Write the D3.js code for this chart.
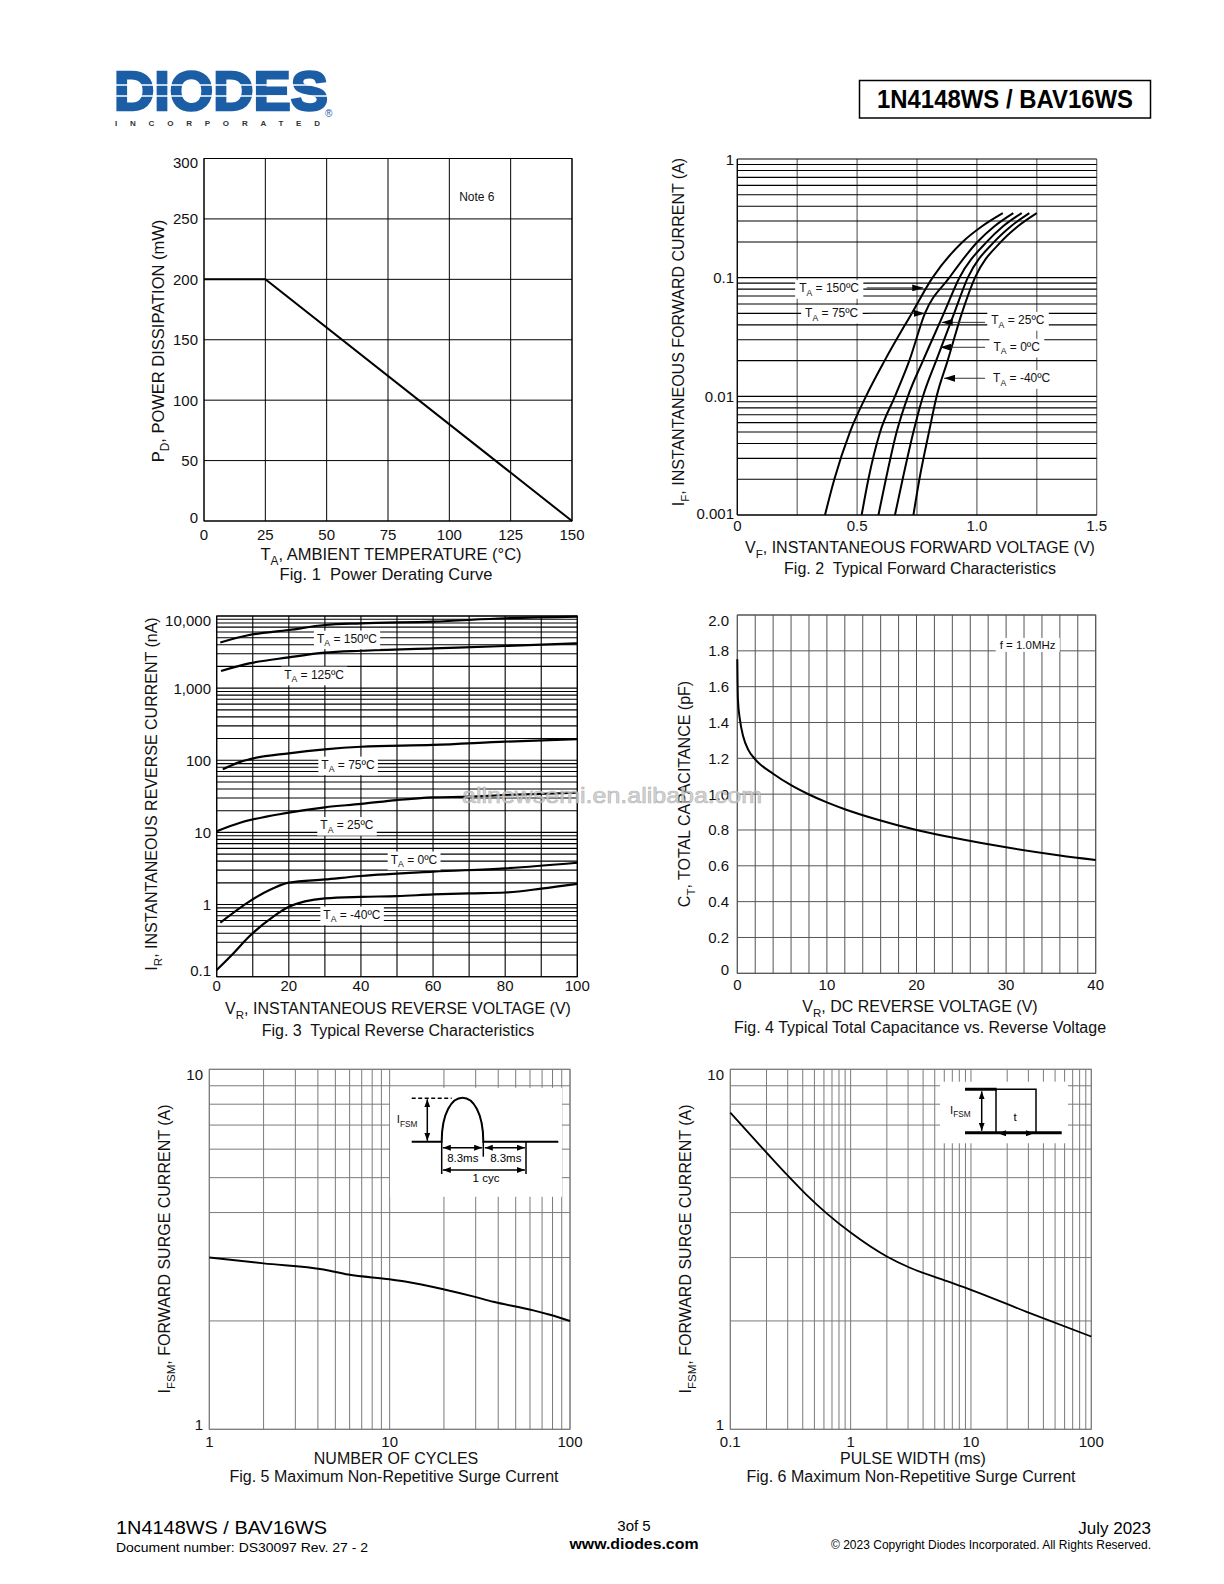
<!DOCTYPE html>
<html><head><meta charset="utf-8">
<script src="https://cdn.jsdelivr.net/npm/d3@7"></script>
<style>body{margin:0;background:#fff}svg{display:block}text{font-family:'Liberation Sans',Arial,sans-serif}</style>
</head><body>
<script>
// ---------------- DATA ----------------
const fig1Temperature = [0, 25, 150];
const fig1Power = [200, 200, 0];
const fig1XTicks = [0, 25, 50, 75, 100, 125, 150];
const fig1YTicks = [0, 50, 100, 150, 200, 250, 300];

const fig2Current = [0.001, 0.002, 0.005, 0.01, 0.02, 0.05, 0.1, 0.2, 0.27, 0.35];
const fig2V150 = [0.366, 0.405, 0.470, 0.537, 0.615, 0.728, 0.815, 0.940, 1.020, 1.108];
const fig2V75  = [0.519, 0.547, 0.596, 0.658, 0.718, 0.783, 0.885, 1.002, 1.072, 1.152];
const fig2V25  = [0.589, 0.620, 0.665, 0.712, 0.775, 0.862, 0.927, 1.041, 1.108, 1.187];
const fig2V0   = [0.658, 0.690, 0.735, 0.775, 0.830, 0.905, 0.962, 1.072, 1.141, 1.219];
const fig2Vm40 = [0.735, 0.760, 0.800, 0.832, 0.878, 0.937, 0.992, 1.100, 1.170, 1.250];
const fig2XGrid = [0, 0.25, 0.5, 0.75, 1.0, 1.25, 1.5];
const fig2XTicks = [0, 0.5, 1.0, 1.5];
const fig2XTickLabels = ["0", "0.5", "1.0", "1.5"];
const fig2YTicks = [0.001, 0.01, 0.1, 1];
const fig2YTickLabels = ["0.001", "0.01", "0.1", "1"];
const fig2Labels = ["150ºC", "75ºC", "25ºC", "0ºC", "-40ºC"];
const fig2LabelV = [0.383, 0.394, 1.171, 1.166, 1.187];
const fig2LabelI = [0.081, 0.050, 0.0436, 0.0259, 0.0141];
const fig2ArrowFromV = [0.540, 0.548, 1.034, 1.034, 1.034];
const fig2ArrowToV = [0.776, 0.783, 0.853, 0.846, 0.863];
const fig2ArrowI = [0.082, 0.050, 0.042, 0.0259, 0.0142];

const fig3V150 = [1, 9, 20, 30, 40, 60, 80, 100];
const fig3I150 = [4300, 5450, 6400, 7500, 7900, 8350, 9300, 9800];
const fig3V125 = [1.2, 9, 20, 30, 40, 60, 80, 100];
const fig3I125 = [1730, 2200, 2670, 3100, 3300, 3560, 3840, 4180];
const fig3V75 = [1.7, 6.5, 9, 20, 30, 40, 60, 80, 100];
const fig3I75 = [75, 95, 103, 125, 142, 154, 163, 181, 197];
const fig3V25 = [0, 6.5, 20, 30, 40, 50, 60, 70, 80, 100];
const fig3I25 = [10.4, 13.6, 18.8, 22.3, 24.8, 28.1, 30.6, 31.3, 33, 35.5];
const fig3V0 = [1, 9, 15.7, 20, 30, 40, 60, 80, 100];
const fig3I0 = [0.56, 1.1, 1.68, 2.01, 2.23, 2.49, 2.86, 3.18, 3.8];
const fig3Vm40 = [0, 4.6, 9, 15.7, 20, 30, 40, 50, 60, 70, 80, 90, 100];
const fig3Im40 = [0.124, 0.21, 0.36, 0.68, 0.93, 1.22, 1.28, 1.31, 1.38, 1.43, 1.47, 1.66, 1.93];
const fig3XTicks = [0, 20, 40, 60, 80, 100];
const fig3XGrid = [0, 10, 20, 30, 40, 50, 60, 70, 80, 90, 100];
const fig3YTicks = [0.1, 1, 10, 100, 1000, 10000];
const fig3YTickLabels = ["0.1", "1", "10", "100", "1,000", "10,000"];
const fig3Labels = ["150ºC", "125ºC", "75ºC", "25ºC", "0ºC", "-40ºC"];
const fig3LabelV = [36.1, 27.0, 36.4, 36.1, 54.7, 37.5];
const fig3LabelI = [4800, 1520, 86, 12.5, 4.15, 0.716];

const fig4Voltage = [0, 0.07, 0.3, 0.67, 1.23, 2, 4, 6, 8, 10, 12, 15.5, 20, 25, 30, 36, 40];
const fig4Capacitance = [1.753, 1.526, 1.414, 1.32, 1.247, 1.194, 1.114, 1.050, 0.998, 0.954, 0.916, 0.860, 0.800, 0.748, 0.703, 0.658, 0.633];
const fig4XTicks = [0, 10, 20, 30, 40];
const fig4XGrid = d3.range(0, 41, 2);
const fig4YTicks = [0, 0.2, 0.4, 0.6, 0.8, 1.0, 1.2, 1.4, 1.6, 1.8, 2.0];
const fig4YTickLabels = ["0", "0.2", "0.4", "0.6", "0.8", "1.0", "1.2", "1.4", "1.6", "1.8", "2.0"];

const fig5Cycles = [1, 2, 4.3, 5.9, 10, 12.4, 19.8, 29, 37.6, 62.6, 77.4, 100];
const fig5Current = [3.0, 2.89, 2.78, 2.69, 2.61, 2.57, 2.45, 2.34, 2.26, 2.14, 2.08, 2.0];
const fig5XTicks = [1, 10, 100];
const fig5YTicks = [1, 10];

const fig6Width = [0.1, 0.2, 0.3, 0.43, 0.632, 1, 2, 3.11, 5.89, 10, 29, 100];
const fig6Current = [7.58, 5.87, 5.07, 4.48, 3.98, 3.52, 3.02, 2.81, 2.6, 2.44, 2.12, 1.81];
const fig6XTicks = [0.1, 1, 10, 100];
const fig6XTickLabels = ["0.1", "1", "10", "100"];
const fig6YTicks = [1, 10];

// ---------------- SETUP ----------------
const svg = d3.select("body").append("svg").attr("width", 1224).attr("height", 1584);
const defs = svg.append("defs");
function marker(id, w, h) {
  defs.append("marker").attr("id", id).attr("viewBox", `0 0 ${w} ${h}`)
    .attr("refX", w).attr("refY", h / 2).attr("markerWidth", w).attr("markerHeight", h)
    .attr("markerUnits", "userSpaceOnUse").attr("orient", "auto-start-reverse")
    .append("path").attr("d", `M0,0L${w},${h / 2}L0,${h}Z`).attr("fill", "#000");
}
marker("ah", 11, 7);
marker("ahs", 8, 6);
const TF = 16;

function grid(g, xs, ys, xVals, yVals, color, w) {
  const [x0, x1] = xs.range(), [y0, y1] = ys.range();
  g.selectAll(null).data(xVals).join("line")
    .attr("x1", d => xs(d)).attr("x2", d => xs(d)).attr("y1", y0).attr("y2", y1)
    .attr("stroke", color).attr("stroke-width", w);
  g.selectAll(null).data(yVals).join("line")
    .attr("y1", d => ys(d)).attr("y2", d => ys(d)).attr("x1", x0).attr("x2", x1)
    .attr("stroke", color).attr("stroke-width", w);
  g.append("rect").attr("x", x0).attr("y", y1).attr("width", x1 - x0).attr("height", y0 - y1)
    .attr("fill", "none").attr("stroke", color).attr("stroke-width", w);
}
function yLabels(g, ys, vals, labels, xRight, inset, fs = 15) {
  const [b, t] = ys.range();
  g.selectAll(null).data(vals).join("text")
    .attr("x", xRight).attr("y", d => Math.min(Math.max(ys(d), t + inset[0]), b - inset[1]))
    .attr("dy", "0.36em").attr("text-anchor", "end").attr("font-size", fs).attr("fill", "#111")
    .text((d, i) => labels[i]);
}
function xLabels(g, xs, vals, labels, y, fs = 15) {
  g.selectAll(null).data(vals).join("text")
    .attr("x", d => xs(d)).attr("y", y).attr("dy", "0.36em").attr("text-anchor", "middle")
    .attr("font-size", fs).attr("fill", "#111").text((d, i) => labels[i]);
}
function rich(t, parts, fs) {
  let sub = false;
  parts.forEach(p => {
    const isSub = Array.isArray(p);
    const ts = t.append("tspan").text(isSub ? p[0] : p);
    if (isSub) { ts.attr("font-size", fs * 0.72).attr("dy", fs * 0.3); sub = true; }
    else if (sub) { ts.attr("dy", -fs * 0.3); sub = false; }
  });
  return t;
}
function title(x, y, parts, fs = TF, rotate = false) {
  const t = svg.append("text").attr("text-anchor", "middle").attr("font-size", fs).attr("fill", "#111")
    .style("white-space", "pre");
  if (rotate) t.attr("transform", `translate(${x},${y}) rotate(-90)`).attr("dy", "0.36em");
  else t.attr("x", x).attr("y", y).attr("dy", "0.36em");
  rich(t, parts, fs);
  return t;
}
function boxedLabel(g, x, y, parts, fs, pad) {
  const gg = g.append("g");
  const r = gg.append("rect").attr("fill", "#fff");
  const t = gg.append("text").attr("x", x).attr("y", y).attr("dy", "0.3em")
    .attr("text-anchor", "middle").attr("font-size", fs).attr("fill", "#111");
  rich(t, parts, fs);
  const bb = t.node().getBBox();
  r.attr("x", bb.x - pad).attr("y", bb.y - 1).attr("width", bb.width + 2 * pad).attr("height", bb.height + 2);
  return gg;
}

// ---------------- HEADER ----------------
const logo = svg.append("g");
logo.append("text").attr("x", 114).attr("y", 110).attr("font-size", 55).attr("font-weight", 900)
  .attr("fill", "#1b5ea6").attr("stroke", "#1b5ea6").attr("stroke-width", 2.6).attr("stroke-linejoin", "miter")
  .attr("textLength", 214).attr("lengthAdjust", "spacingAndGlyphs").text("DIODES");
[85, 96].forEach(yy => logo.append("line").attr("x1", 112).attr("x2", 330).attr("y1", yy).attr("y2", yy)
  .attr("stroke", "#fff").attr("stroke-width", 1.6));
logo.append("text").attr("x", 325).attr("y", 117).attr("font-size", 10).attr("fill", "#1b5ea6").text("®");
logo.append("text").attr("x", 115).attr("y", 125.5).attr("font-size", 8).attr("font-weight", 700)
  .attr("fill", "#333").attr("textLength", 205).attr("lengthAdjust", "spacing").text("INCORPORATED");

svg.append("rect").attr("x", 859.5).attr("y", 80.5).attr("width", 291).attr("height", 37.5)
  .attr("fill", "none").attr("stroke", "#000").attr("stroke-width", 1.5);
svg.append("text").attr("x", 1005).attr("y", 108).attr("text-anchor", "middle").attr("font-size", 25)
  .attr("font-weight", 700).attr("textLength", 256).attr("lengthAdjust", "spacingAndGlyphs")
  .style("font-family", "'Liberation Sans Narrow','Liberation Sans',Arial,sans-serif").text("1N4148WS / BAV16WS");

// ---------------- FIG 1 ----------------
{
  const x = d3.scaleLinear().domain([0, 150]).range([204, 572]);
  const y = d3.scaleLinear().domain([0, 300]).range([521, 158.5]);
  const g = svg.append("g");
  grid(g, x, y, fig1XTicks, fig1YTicks, "#000", 1);
  g.append("path").datum(d3.zip(fig1Temperature, fig1Power))
    .attr("d", d3.line().x(d => x(d[0])).y(d => y(d[1])))
    .attr("fill", "none").attr("stroke", "#000").attr("stroke-width", 2);
  yLabels(g, y, fig1YTicks, fig1YTicks.map(String), 198, [4, 3]);
  xLabels(g, x, fig1XTicks, fig1XTicks.map(String), 534.5);
  g.append("text").attr("x", x(111.2)).attr("y", y(268.4)).attr("dy", "0.35em").attr("text-anchor", "middle")
    .attr("font-size", 12).attr("fill", "#111").text("Note 6");
  title(391, 554.5, ["T", ["A"], ", AMBIENT TEMPERATURE (°C)"], 16.5);
  title(386, 574.5, ["Fig. 1  Power Derating Curve"], 16.5);
  title(158.5, 341, ["P", ["D"], ", POWER DISSIPATION (mW)"], 16.5, true);
}

// ---------------- FIG 2 ----------------
{
  const x = d3.scaleLinear().domain([0, 1.5]).range([737.3, 1096.7]);
  const y = d3.scaleLog().domain([0.001, 1]).range([515, 159]);
  const g = svg.append("g");
  const [x0, x1] = x.range();
  g.selectAll(null).data(fig2XGrid).join("line").attr("x1", d => x(d)).attr("x2", d => x(d))
    .attr("y1", 515).attr("y2", 159).attr("stroke", "#666").attr("stroke-width", 1.2);
  g.selectAll(null).data(y.ticks()).join("line").attr("y1", d => y(d)).attr("y2", d => y(d))
    .attr("x1", x0).attr("x2", x1).attr("stroke", "#000").attr("stroke-width", 1.1);
  g.append("line").attr("x1", x0).attr("x2", x0).attr("y1", 515).attr("y2", 159).attr("stroke", "#000").attr("stroke-width", 1.2);
  g.append("line").attr("x1", x0).attr("x2", x1).attr("y1", 515).attr("y2", 515).attr("stroke", "#000").attr("stroke-width", 1.2);
  const line = d3.line().x(d => x(d[0])).y(d => y(d[1])).curve(d3.curveMonotoneX);
  [fig2V150, fig2V75, fig2V25, fig2V0, fig2Vm40].forEach(v => {
    g.append("path").datum(d3.zip(v, fig2Current)).attr("d", line)
      .attr("fill", "none").attr("stroke", "#000").attr("stroke-width", 2);
  });
  fig2Labels.forEach((lab, i) => {
    boxedLabel(g, x(fig2LabelV[i]), y(fig2LabelI[i]), ["T", ["A"], " = " + lab], 12, 4);
    g.append("line").attr("x1", x(fig2ArrowFromV[i])).attr("x2", x(fig2ArrowToV[i]))
      .attr("y1", y(fig2ArrowI[i])).attr("y2", y(fig2ArrowI[i]))
      .attr("stroke", "#333").attr("stroke-width", 1).attr("marker-end", "url(#ah)");
  });
  yLabels(g, y, fig2YTicks, fig2YTickLabels, 734, [1, 1]);
  xLabels(g, x, fig2XTicks, fig2XTickLabels, 526);
  title(920, 547.5, ["V", ["F"], ", INSTANTANEOUS FORWARD VOLTAGE (V)"]);
  title(920, 568.5, ["Fig. 2  Typical Forward Characteristics"]);
  title(678.5, 332, ["I", ["F"], ", INSTANTANEOUS FORWARD CURRENT (A)"], TF, true);
}

// ---------------- FIG 3 ----------------
{
  const x = d3.scaleLinear().domain([0, 100]).range([216.7, 577.3]);
  const y = d3.scaleLog().domain([0.1, 10000]).range([976.7, 616]);
  const g = svg.append("g");
  grid(g, x, y, fig3XGrid, y.ticks(), "#000", 1.1);
  const line = d3.line().x(d => x(d[0])).y(d => y(d[1])).curve(d3.curveMonotoneX);
  [[fig3V150, fig3I150], [fig3V125, fig3I125], [fig3V75, fig3I75], [fig3V25, fig3I25], [fig3V0, fig3I0], [fig3Vm40, fig3Im40]]
    .forEach(([v, c]) => g.append("path").datum(d3.zip(v, c)).attr("d", line)
      .attr("fill", "none").attr("stroke", "#000").attr("stroke-width", 2.2));
  fig3Labels.forEach((lab, i) => boxedLabel(g, x(fig3LabelV[i]), y(fig3LabelI[i]), ["T", ["A"], " = " + lab], 12, 3));
  yLabels(g, y, fig3YTicks, fig3YTickLabels, 211, [4.5, 6]);
  xLabels(g, x, fig3XTicks, fig3XTicks.map(String), 986);
  title(398, 1008.5, ["V", ["R"], ", INSTANTANEOUS REVERSE VOLTAGE (V)"]);
  title(398, 1030, ["Fig. 3  Typical Reverse Characteristics"]);
  title(151.5, 794, ["I", ["R"], ", INSTANTANEOUS REVERSE CURRENT (nA)"], TF, true);
}

// ---------------- FIG 4 ----------------
{
  const x = d3.scaleLinear().domain([0, 40]).range([737.3, 1095.7]);
  const y = d3.scaleLinear().domain([0, 2]).range([973.3, 615]);
  const g = svg.append("g");
  grid(g, x, y, fig4XGrid, fig4YTicks, "#555", 1);
  g.append("path").datum(d3.zip(fig4Voltage, fig4Capacitance))
    .attr("d", d3.line().x(d => x(d[0])).y(d => y(d[1])).curve(d3.curveMonotoneX))
    .attr("fill", "none").attr("stroke", "#000").attr("stroke-width", 2);
  boxedLabel(g, x(32.4), y(1.83), ["f = 1.0MHz"], 11.5, 4);
  yLabels(g, y, fig4YTicks, fig4YTickLabels, 729, [5.5, 4]);
  xLabels(g, x, fig4XTicks, fig4XTicks.map(String), 985);
  title(920, 1006, ["V", ["R"], ", DC REVERSE VOLTAGE (V)"]);
  title(920, 1027, ["Fig. 4 Typical Total Capacitance vs. Reverse Voltage"]);
  title(684, 794, ["C", ["T"], ", TOTAL CAPACITANCE (pF)"], TF, true);
}

// watermark
svg.append("text").attr("x", 612).attr("y", 795).attr("dy", "0.35em").attr("text-anchor", "middle")
  .attr("font-size", 22).attr("fill", "#cfcfcf").attr("stroke", "#a8a8a8").attr("stroke-width", 0.6)
  .attr("opacity", 0.85).attr("textLength", 300).attr("lengthAdjust", "spacingAndGlyphs")
  .text("allnewsemi.en.alibaba.com");

// ---------------- FIG 5 ----------------
{
  const x = d3.scaleLog().domain([1, 100]).range([209.3, 570]);
  const y = d3.scaleLog().domain([1, 10]).range([1429.3, 1069.3]);
  const g = svg.append("g");
  grid(g, x, y, x.ticks(), y.ticks(), "#7a7a7a", 1);
  g.append("path").datum(d3.zip(fig5Cycles, fig5Current))
    .attr("d", d3.line().x(d => x(d[0])).y(d => y(d[1])).curve(d3.curveMonotoneX))
    .attr("fill", "none").attr("stroke", "#000").attr("stroke-width", 2);
  const ox = x.range()[0], oy = y.range()[1];
  const ins = g.append("g").attr("transform", `translate(${ox},${oy})`);
  ins.append("rect").attr("x", 180.7).attr("y", 18.5).attr("width", 172).attr("height", 109).attr("fill", "#fff");
  ins.append("line").attr("x1", 202.4).attr("x2", 242.4).attr("y1", 29).attr("y2", 29)
    .attr("stroke", "#000").attr("stroke-width", 1.5).attr("stroke-dasharray", "4,2.5");
  ins.append("path").attr("d", "M202.4,72.4H232.4C232.4,13.7 274,13.7 274,72.4H349")
    .attr("fill", "none").attr("stroke", "#000").attr("stroke-width", 2);
  [[232.4, 104.7], [274, 87.4], [316.7, 104.7]].forEach(([xx, y2]) =>
    ins.append("line").attr("x1", xx).attr("x2", xx).attr("y1", 72.4).attr("y2", y2).attr("stroke", "#000").attr("stroke-width", 1.5));
  const dbl = (x1, y1, x2, y2) => ins.append("line").attr("x1", x1).attr("y1", y1).attr("x2", x2).attr("y2", y2)
    .attr("stroke", "#000").attr("stroke-width", 1.5).attr("marker-start", "url(#ahs)").attr("marker-end", "url(#ahs)");
  dbl(218, 30, 218, 71.5);
  dbl(233.5, 78.4, 272.8, 78.4);
  dbl(275.5, 78.4, 315.6, 78.4);
  dbl(233.5, 100.7, 315.6, 100.7);
  rich(ins.append("text").attr("x", 187.4).attr("y", 54).attr("font-size", 11.5).attr("fill", "#111"), ["I", ["FSM"]], 11.5);
  ins.append("text").attr("x", 253.5).attr("y", 92.5).attr("text-anchor", "middle").attr("font-size", 11.5).text("8.3ms");
  ins.append("text").attr("x", 296.5).attr("y", 92.5).attr("text-anchor", "middle").attr("font-size", 11.5).text("8.3ms");
  ins.append("text").attr("x", 276.7).attr("y", 113).attr("text-anchor", "middle").attr("font-size", 11.5).text("1 cyc");
  yLabels(g, y, fig5YTicks, fig5YTicks.map(String), 203, [5, 5]);
  xLabels(g, x, fig5XTicks, fig5XTicks.map(String), 1442);
  title(396, 1458.5, ["NUMBER OF CYCLES"]);
  title(394, 1476.5, ["Fig. 5 Maximum Non-Repetitive Surge Current"]);
  title(164.5, 1249, ["I", ["FSM"], ", FORWARD SURGE CURRENT (A)"], TF, true);
}

// ---------------- FIG 6 ----------------
{
  const x = d3.scaleLog().domain([0.1, 100]).range([730.3, 1091.3]);
  const y = d3.scaleLog().domain([1, 10]).range([1429.3, 1069.3]);
  const g = svg.append("g");
  grid(g, x, y, x.ticks(), y.ticks(), "#7a7a7a", 1);
  g.append("path").datum(d3.zip(fig6Width, fig6Current))
    .attr("d", d3.line().x(d => x(d[0])).y(d => y(d[1])).curve(d3.curveMonotoneX))
    .attr("fill", "none").attr("stroke", "#000").attr("stroke-width", 1.8);
  const ox = x.range()[0], oy = y.range()[1];
  const ins = g.append("g").attr("transform", `translate(${ox},${oy})`);
  ins.append("rect").attr("x", 209.7).attr("y", 12.4).attr("width", 128).attr("height", 61.6).attr("fill", "#fff");
  ins.append("line").attr("x1", 234.7).attr("x2", 266.4).attr("y1", 20).attr("y2", 20).attr("stroke", "#000").attr("stroke-width", 3);
  ins.append("path").attr("d", "M265.7,63.4V20H305.7V63.4").attr("fill", "none").attr("stroke", "#000").attr("stroke-width", 1.5);
  ins.append("line").attr("x1", 234.7).attr("x2", 331.4).attr("y1", 63.4).attr("y2", 63.4).attr("stroke", "#000").attr("stroke-width", 3);
  const dbl = (x1, y1, x2, y2) => ins.append("line").attr("x1", x1).attr("y1", y1).attr("x2", x2).attr("y2", y2)
    .attr("stroke", "#000").attr("stroke-width", 1.5).attr("marker-start", "url(#ahs)").attr("marker-end", "url(#ahs)");
  dbl(251.4, 22, 251.4, 61.5);
  dbl(267.7, 64, 303.7, 64);
  rich(ins.append("text").attr("x", 219.7).attr("y", 44.5).attr("font-size", 11.5).attr("fill", "#111"), ["I", ["FSM"]], 11.5);
  ins.append("text").attr("x", 284.7).attr("y", 52).attr("text-anchor", "middle").attr("font-size", 11.5).text("t");
  yLabels(g, y, fig6YTicks, fig6YTicks.map(String), 724, [5, 5]);
  xLabels(g, x, fig6XTicks, fig6XTickLabels, 1442);
  title(913, 1458.5, ["PULSE WIDTH (ms)"]);
  title(911, 1476.5, ["Fig. 6 Maximum Non-Repetitive Surge Current"]);
  title(685.5, 1249, ["I", ["FSM"], ", FORWARD SURGE CURRENT (A)"], TF, true);
}

// ---------------- FOOTER ----------------
const nar = "'Liberation Sans Narrow','Liberation Sans',Arial,sans-serif";
svg.append("text").attr("x", 116).attr("y", 1534).attr("font-size", 18).attr("textLength", 211)
  .attr("lengthAdjust", "spacingAndGlyphs").style("font-family", nar).text("1N4148WS / BAV16WS");
svg.append("text").attr("x", 116).attr("y", 1551.5).attr("font-size", 13).attr("textLength", 252)
  .attr("lengthAdjust", "spacingAndGlyphs").style("font-family", nar).text("Document number: DS30097 Rev. 27 - 2");
svg.append("text").attr("x", 634).attr("y", 1531).attr("text-anchor", "middle").attr("font-size", 15)
  .style("font-family", nar).text("3of 5");
svg.append("text").attr("x", 634).attr("y", 1549).attr("text-anchor", "middle").attr("font-size", 15)
  .attr("font-weight", 700).attr("textLength", 129).attr("lengthAdjust", "spacingAndGlyphs")
  .style("font-family", nar).text("www.diodes.com");
svg.append("text").attr("x", 1151).attr("y", 1533.5).attr("text-anchor", "end").attr("font-size", 17)
  .style("font-family", nar).text("July 2023");
svg.append("text").attr("x", 1151).attr("y", 1548.5).attr("text-anchor", "end").attr("font-size", 12)
  .attr("textLength", 320).attr("lengthAdjust", "spacingAndGlyphs").style("font-family", nar)
  .text("© 2023 Copyright Diodes Incorporated. All Rights Reserved.");
</script>
</body></html>
